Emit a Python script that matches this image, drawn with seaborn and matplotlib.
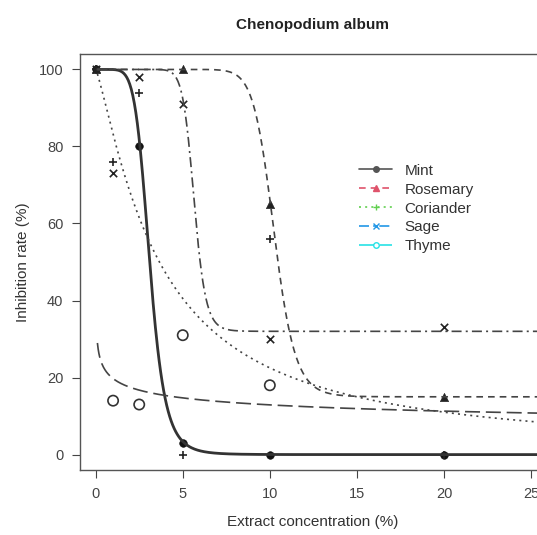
import numpy as np
import pandas as pd
import seaborn as sns
import matplotlib
matplotlib.use("Agg")
import matplotlib.pyplot as plt
from matplotlib.lines import Line2D

# extractos
extractos = ["Mint", "Rosemary", "Coriander", "Sage", "Thyme"]

# puntos observados (concentracion %, inhibicion %)
mint_x = [0, 2.5, 5, 10, 20]
mint_y = [100, 80, 3, 0, 0]
rosemary_x = [0, 5, 10, 20]
rosemary_y = [100, 100, 65, 15]
coriander_x = [0, 1, 2.5, 5, 10, 20]
coriander_y = [100, 76, 94, 0, 56, 0]
sage_x = [0, 1, 2.5, 5, 10, 20]
sage_y = [100, 73, 98, 91, 30, 33]
thyme_x = [1, 2.5, 5, 10]
thyme_y = [14, 13, 31, 18]

# parametros log-logisticos (b, e, c, d)
curva_b = [7.0, 17.0, 1.23, 17.0, 0.22]
curva_e = [3.1, 10.25, 3.66, 5.65, 0.0017]
curva_c = [0, 15, 0, 32, 0]
curva_d = [100, 100, 100, 100, 100]

estilos = ["-", (0, (4, 3)), (0, (1.2, 2.5)), (0, (6, 2.5, 1.2, 2.5)), (0, (9, 3.5))]
marcadores = ["o", "^", "+", "x", "o"]
colores_leyenda = ["#555555", "#DF536B", "#61D04F", "#2297E6", "#28E2E5"]

puntos_x = [mint_x, rosemary_x, coriander_x, sage_x, thyme_x]
puntos_y = [mint_y, rosemary_y, coriander_y, sage_y, thyme_y]

sns.set_style("ticks")
plt.rcParams["font.family"] = ["Liberation Sans", "DejaVu Sans"]

fig = plt.figure(figsize=(5.37, 5.35), dpi=100)
ax = fig.add_axes([80 / 537, 65 / 535, 465 / 537, 416 / 535])

dosis = np.linspace(0.1, 26, 600)
for i, nombre in enumerate(extractos):
    resp = curva_c[i] + (curva_d[i] - curva_c[i]) / (1 + (dosis / curva_e[i]) ** curva_b[i])
    sns.lineplot(x=dosis, y=resp, ax=ax, color="#333333" if i == 0 else "#444444",
                 lw=2.0 if i == 0 else 1.2, linestyle=estilos[i], legend=False)

for i, nombre in enumerate(extractos):
    df = pd.DataFrame({"x": puntos_x[i], "y": puntos_y[i]})
    if i == 0:
        sns.scatterplot(data=df, x="x", y="y", ax=ax, marker="o", s=30,
                        color="#111111", edgecolor="#111111", legend=False)
    elif i == 4:
        sns.scatterplot(data=df, x="x", y="y", ax=ax, marker="o", s=55,
                        facecolor="none", edgecolor="#333333", linewidth=1.2, legend=False)
    elif i == 1:
        sns.scatterplot(data=df, x="x", y="y", ax=ax, marker="^", s=35,
                        color="#222222", edgecolor="#222222", legend=False)
    else:
        sns.scatterplot(data=df, x="x", y="y", ax=ax, marker=marcadores[i], s=28,
                        color="#222222", linewidth=1.2, legend=False)

ax.set_xlim(-0.9, 25.8)
ax.set_ylim(-4, 104)
ax.set_xticks([0, 5, 10, 15, 20, 25])
ax.set_yticks([0, 20, 40, 60, 80, 100])
ax.tick_params(direction="out", length=6, width=0.8, pad=6, labelsize=10.5,
               colors="#444444")
for s in ax.spines.values():
    s.set_color("#555555")
    s.set_linewidth(1.0)

ax.set_xlabel("Extract concentration (%)", fontsize=11, color="#333333", labelpad=10)
ax.set_ylabel("Inhibition rate (%)", fontsize=11, color="#333333", labelpad=6)
fig.text(312 / 537, 1 - 25 / 535, "Chenopodium album", ha="center", va="center",
         fontsize=11, fontweight="bold", color="#222222")

handles = []
for i, nombre in enumerate(extractos):
    if i == 0:
        h = Line2D([], [], color=colores_leyenda[i], ls=estilos[i], lw=1.2,
                   marker="o", markersize=4)
    elif i == 4:
        h = Line2D([], [], color=colores_leyenda[i], ls=estilos[i], lw=1.2,
                   marker="o", markersize=4, markerfacecolor="none")
    else:
        h = Line2D([], [], color=colores_leyenda[i], ls=estilos[i], lw=1.2,
                   marker=marcadores[i], markersize=5)
    handles.append(h)

leg = ax.legend(handles, extractos, loc="upper left",
                bbox_to_anchor=(345 / 537, 1 - 150 / 535), bbox_transform=fig.transFigure,
                frameon=False, fontsize=11, handlelength=2.2, handletextpad=0.8,
                labelspacing=0.32)
for t in leg.get_texts():
    t.set_color("#333333")

fig.savefig("out.png", dpi=100)
